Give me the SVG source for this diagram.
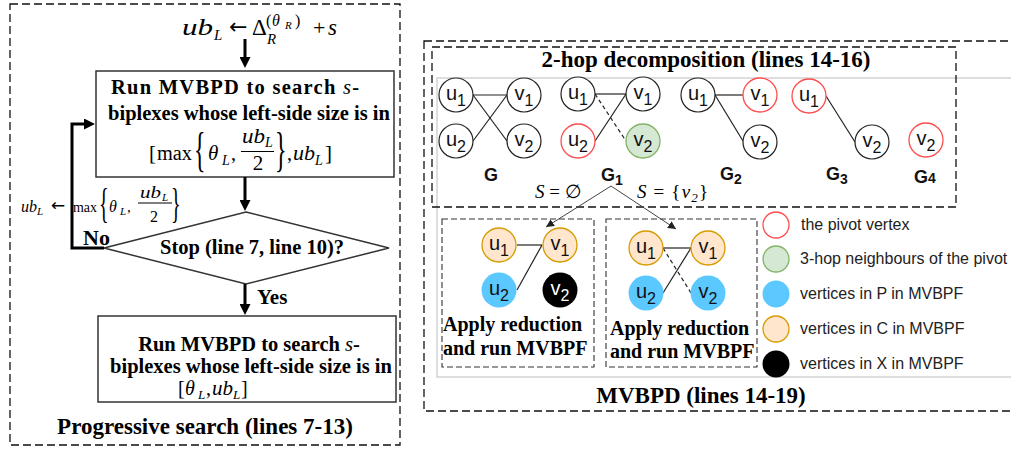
<svg xmlns="http://www.w3.org/2000/svg" width="1011" height="450" viewBox="0 0 1011 450">
<style>
.bt{font-family:"Liberation Serif",serif;font-weight:bold;fill:#000}
.m{font-family:"Liberation Serif","DejaVu Serif",serif;fill:#000}
.ar{font-family:"DejaVu Sans",sans-serif;fill:#000}
.i{font-style:italic}
.nl{font-family:"Liberation Sans",Arial,sans-serif;font-size:20px;fill:#111;text-anchor:middle}
.gl{font-family:"Liberation Sans",Arial,sans-serif;font-size:18px;font-weight:bold;fill:#111;text-anchor:middle}
.dash{fill:none;stroke:#111;stroke-width:1.3;stroke-dasharray:8,4}
.dash2{fill:none;stroke:#333;stroke-width:1.1;stroke-dasharray:6,3}
.box{fill:#fff;stroke:#333;stroke-width:1.5}
.thick{fill:none;stroke:#000;stroke-width:3}
.n{fill:#fff;stroke:#222;stroke-width:1.2}
.red{fill:#fff;stroke:#ff4d4d;stroke-width:1.3}
.grn{fill:#d5e8d4;stroke:#82b366;stroke-width:1.3}
.org{fill:#ffe6cc;stroke:#d79b00;stroke-width:1.3}
.blu{fill:#5bc8ff;stroke:none}
.blk{fill:#000;stroke:none}
.e{stroke:#222;stroke-width:1.2;fill:none}
.ed{stroke:#222;stroke-width:1.2;fill:none;stroke-dasharray:4,3}
.ta{stroke:#444;stroke-width:1;fill:none}
.lg{font-family:"Liberation Sans",Arial,sans-serif;font-size:16px;fill:#222}
</style>
<defs>
<marker id="ah" viewBox="0 0 11 11" refX="1" refY="5.5" markerWidth="11" markerHeight="11" markerUnits="userSpaceOnUse" orient="auto"><path d="M0,0 L11,5.5 L0,11 z" fill="#000"/></marker>
<marker id="sa" viewBox="0 0 8 8" refX="8" refY="4" markerWidth="8" markerHeight="8" markerUnits="userSpaceOnUse" orient="auto"><path d="M0,0 L8,4 L0,8 z" fill="#222"/></marker>
</defs>
<rect width="1011" height="450" fill="#fff"/>

<!-- Left panel -->
<g id="left-panel">
<rect class="dash" x="10" y="4" width="390" height="441"/>
<text class="bt" x="205" y="434" font-size="23" text-anchor="middle">Progressive search (lines 7-13)</text>
</g>

<g id="init-formula">
<text class="m i" x="182" y="35" font-size="24" textLength="31" lengthAdjust="spacingAndGlyphs">ub</text>
<text class="m i" x="214" y="40" font-size="15">L</text>
<text class="ar" x="229" y="34" font-size="22">←</text>
<text class="m" x="252" y="35" font-size="23">Δ</text>
<text class="m" x="266" y="26" font-size="16">(</text>
<text class="m i" x="272" y="26" font-size="16">θ</text>
<text class="m i" x="285" y="29" font-size="11">R</text>
<text class="m" x="295" y="26" font-size="16">)</text>
<text class="m i" x="267" y="44" font-size="15">R</text>
<text class="m" x="313" y="35" font-size="22">+</text>
<text class="m i" x="328" y="35" font-size="23">s</text>
</g>

<g id="box1">
<rect class="box" x="96" y="71" width="298" height="106"/>
<text class="bt" x="111" y="94" font-size="20.5" textLength="248" lengthAdjust="spacing">Run MVBPD to search <tspan class="i" font-family="Liberation Serif,serif" font-weight="normal">s</tspan>-</text>
<text class="bt" x="249" y="120" font-size="20.5" text-anchor="middle">biplexes whose left-side size is in</text>
<text class="m" x="149" y="160" font-size="21">[</text>
<text class="m" x="157" y="160" font-size="20.5" textLength="35" lengthAdjust="spacingAndGlyphs">max</text>
<text class="m" font-size="48" transform="translate(194,166) scale(0.5,1)">{</text>
<text class="m i" x="208" y="160" font-size="21">θ</text>
<text class="m i" x="222" y="165" font-size="14">L</text>
<text class="m" x="231" y="160" font-size="20">,</text>
<text class="m i" x="242" y="143" font-size="21" textLength="23" lengthAdjust="spacingAndGlyphs">ub</text>
<text class="m i" x="265" y="147" font-size="14">L</text>
<line x1="241" y1="151.5" x2="274" y2="151.5" stroke="#000" stroke-width="1.2"/>
<text class="m" x="258" y="170" font-size="21" text-anchor="middle">2</text>
<text class="m" font-size="48" transform="translate(275,166) scale(0.5,1)">}</text>
<text class="m" x="287" y="160" font-size="20">,</text>
<text class="m i" x="293" y="160" font-size="21" textLength="22" lengthAdjust="spacingAndGlyphs">ub</text>
<text class="m i" x="315" y="165" font-size="14">L</text>
<text class="m" x="325" y="160" font-size="21">]</text>
</g>

<g id="decision">
<polygon class="box" points="246,212 389,248 246,284 104,248"/>
<text class="bt" x="252" y="254" font-size="20.5" text-anchor="middle">Stop (line 7, line 10)?</text>
</g>

<g id="box2">
<rect class="box" x="98" y="316" width="298" height="86"/>
<text class="bt" x="249" y="351" font-size="20.5" text-anchor="middle">Run MVBPD to search <tspan class="i" font-family="Liberation Serif,serif" font-weight="normal">s</tspan>-</text>
<text class="bt" x="251" y="373" font-size="20.5" text-anchor="middle">biplexes whose left-side size is in</text>
<text class="m" x="178" y="395" font-size="20">[</text>
<text class="m i" x="185" y="395" font-size="20">θ</text>
<text class="m i" x="198" y="399" font-size="13">L</text>
<text class="m" x="206" y="395" font-size="20">,</text>
<text class="m i" x="212" y="395" font-size="20" textLength="21" lengthAdjust="spacingAndGlyphs">ub</text>
<text class="m i" x="233" y="399" font-size="13">L</text>
<text class="m" x="241" y="395" font-size="20">]</text>
</g>

<g id="flow-connectors">
<line class="thick" x1="245" y1="39" x2="245" y2="58" marker-end="url(#ah)"/>
<line class="thick" x1="245" y1="177" x2="245" y2="201" marker-end="url(#ah)"/>
<line class="thick" x1="245" y1="284" x2="245" y2="305" marker-end="url(#ah)"/>
<path class="thick" d="M104,248 H72 V124 H85" marker-end="url(#ah)"/>
<text class="bt" x="83" y="245" font-size="22">No</text>
<text class="bt" x="257" y="304" font-size="21">Yes</text>
<text class="m i" x="21" y="212" font-size="16" textLength="16" lengthAdjust="spacingAndGlyphs">ub</text>
<text class="m i" x="37" y="215" font-size="11">L</text>
<text class="ar" x="51" y="211" font-size="17">←</text>
<text class="m" x="73" y="212" font-size="15" textLength="24" lengthAdjust="spacingAndGlyphs">max</text>
<text class="m" font-size="43" transform="translate(99,217) scale(0.47,1)">{</text>
<text class="m i" x="109" y="212" font-size="16">θ</text>
<text class="m i" x="120" y="215" font-size="11">L</text>
<text class="m" x="127" y="212" font-size="15">,</text>
<text class="m i" x="140" y="198" font-size="16" textLength="21" lengthAdjust="spacingAndGlyphs">ub</text>
<text class="m i" x="162" y="201" font-size="11">L</text>
<line x1="138" y1="203" x2="172" y2="203" stroke="#000" stroke-width="1"/>
<text class="m" x="154" y="222" font-size="16" text-anchor="middle">2</text>
<text class="m" font-size="43" transform="translate(171,217) scale(0.47,1)">}</text>
</g>

<!-- Right panel -->
<g id="right-panel">
<rect class="dash" x="424" y="41" width="600" height="370"/>
<rect x="437" y="78" width="590" height="299" fill="none" stroke="#c8c8c8" stroke-width="1.2"/>
<rect class="dash" x="432" y="47" width="524" height="160"/>
<text class="bt" x="706" y="67" font-size="23" text-anchor="middle">2-hop decomposition (lines 14-16)</text>
<text class="bt" x="701" y="403" font-size="23" text-anchor="middle">MVBPD (lines 14-19)</text>
</g>

<g id="graph-G">
<line class="e" x1="473" y1="95" x2="507" y2="95"/>
<line class="e" x1="473" y1="95" x2="507" y2="141"/>
<line class="e" x1="473" y1="141" x2="507" y2="95"/>
<circle class="n" cx="456" cy="95" r="17"/>
<circle class="n" cx="524" cy="95" r="17"/>
<circle class="n" cx="456" cy="141" r="17"/>
<circle class="n" cx="524" cy="141" r="17"/>
<text class="nl" x="456" y="100">u<tspan font-size="16" dy="6">1</tspan></text>
<text class="nl" x="524" y="100">v<tspan font-size="16" dy="6">1</tspan></text>
<text class="nl" x="456" y="146">u<tspan font-size="16" dy="6">2</tspan></text>
<text class="nl" x="524" y="146">v<tspan font-size="16" dy="6">2</tspan></text>
<text class="gl" x="491" y="181">G</text>
</g>

<g id="graph-G1">
<line class="e" x1="595" y1="94" x2="626" y2="94"/>
<line class="e" x1="595" y1="141" x2="626" y2="94"/>
<line class="ed" x1="595" y1="94" x2="626" y2="141"/>
<circle class="n" cx="578" cy="94" r="17"/>
<circle class="n" cx="643" cy="94" r="17"/>
<circle class="red" cx="578" cy="141" r="17"/>
<circle class="grn" cx="643" cy="141" r="17"/>
<text class="nl" x="578" y="99">u<tspan font-size="16" dy="6">1</tspan></text>
<text class="nl" x="643" y="99">v<tspan font-size="16" dy="6">1</tspan></text>
<text class="nl" x="578" y="146">u<tspan font-size="16" dy="6">2</tspan></text>
<text class="nl" x="643" y="146">v<tspan font-size="16" dy="6">2</tspan></text>
<text class="gl" x="612" y="181">G<tspan font-size="14" dy="4">1</tspan></text>
</g>

<g id="graph-G2">
<line class="e" x1="715" y1="95" x2="743" y2="95"/>
<line class="e" x1="715" y1="95" x2="743" y2="141"/>
<circle class="n" cx="698" cy="95" r="17"/>
<circle class="red" cx="760" cy="95" r="17"/>
<circle class="n" cx="760" cy="142" r="17"/>
<text class="nl" x="698" y="100">u<tspan font-size="16" dy="6">1</tspan></text>
<text class="nl" x="760" y="100">v<tspan font-size="16" dy="6">1</tspan></text>
<text class="nl" x="760" y="147">v<tspan font-size="16" dy="6">2</tspan></text>
<text class="gl" x="731" y="180">G<tspan font-size="14" dy="4">2</tspan></text>
</g>

<g id="graph-G3">
<line class="e" x1="826" y1="96" x2="855" y2="142"/>
<circle class="red" cx="809" cy="96" r="17"/>
<circle class="n" cx="872" cy="142" r="17"/>
<text class="nl" x="809" y="101">u<tspan font-size="16" dy="6">1</tspan></text>
<text class="nl" x="872" y="147">v<tspan font-size="16" dy="6">2</tspan></text>
<text class="gl" x="837" y="180">G<tspan font-size="14" dy="4">3</tspan></text>
</g>

<g id="graph-G4">
<circle class="red" cx="926" cy="140" r="17"/>
<text class="nl" x="926" y="145">v<tspan font-size="16" dy="6">2</tspan></text>
<text class="gl" x="925" y="183">G<tspan font-size="14">4</tspan></text>
</g>

<g id="branch-connectors">
<line class="ta" x1="611" y1="186" x2="546" y2="227" marker-end="url(#sa)"/>
<line class="ta" x1="611" y1="186" x2="676" y2="229" marker-end="url(#sa)"/>
<text class="m i" x="535" y="198" font-size="19">S <tspan font-style="normal">= ∅</tspan></text>
<text class="m i" x="637" y="198" font-size="19" textLength="71" lengthAdjust="spacing">S <tspan font-style="normal">= {</tspan>v<tspan font-size="13" dy="4">2</tspan><tspan font-style="normal" dy="-4">}</tspan></text>
</g>

<g id="subcase-empty">
<rect class="dash2" x="442" y="219" width="152" height="148"/>
<line class="e" x1="517" y1="245" x2="542" y2="245"/>
<line class="e" x1="517" y1="290" x2="542" y2="245"/>
<circle class="org" cx="499" cy="245" r="17"/>
<circle class="org" cx="560" cy="245" r="17"/>
<circle class="blu" cx="499" cy="290" r="17.5"/>
<circle class="blk" cx="560" cy="290" r="17.5"/>
<text class="nl" x="499" y="250">u<tspan font-size="16" dy="6">1</tspan></text>
<text class="nl" x="560" y="250">v<tspan font-size="16" dy="6">1</tspan></text>
<text class="nl" x="499" y="295">u<tspan font-size="16" dy="6">2</tspan></text>
<text class="nl" x="560" y="295" style="fill:#fff">v<tspan font-size="16" dy="6">2</tspan></text>
<text class="bt" x="443" y="331" font-size="20">Apply reduction</text>
<text class="bt" x="443" y="355" font-size="20">and run MVBPF</text>
</g>

<g id="subcase-v2">
<rect class="dash2" x="606" y="219" width="151" height="148"/>
<line class="e" x1="663" y1="248" x2="691" y2="248"/>
<line class="e" x1="663" y1="293" x2="691" y2="248"/>
<line class="ed" x1="663" y1="248" x2="691" y2="293"/>
<circle class="org" cx="646" cy="248" r="17"/>
<circle class="org" cx="708" cy="248" r="17"/>
<circle class="blu" cx="646" cy="293" r="17.5"/>
<circle class="blu" cx="708" cy="293" r="17.5"/>
<text class="nl" x="646" y="253">u<tspan font-size="16" dy="6">1</tspan></text>
<text class="nl" x="708" y="253">v<tspan font-size="16" dy="6">1</tspan></text>
<text class="nl" x="646" y="298">u<tspan font-size="16" dy="6">2</tspan></text>
<text class="nl" x="708" y="298">v<tspan font-size="16" dy="6">2</tspan></text>
<text class="bt" x="610" y="335" font-size="20">Apply reduction</text>
<text class="bt" x="610" y="358" font-size="20">and run MVBPF</text>
</g>

<g id="legend">
<circle class="red" cx="776" cy="225" r="13"/>
<text class="lg" x="801" y="230">the pivot vertex</text>
<circle class="grn" cx="776" cy="259" r="13"/>
<text class="lg" x="800" y="264">3-hop neighbours of the pivot</text>
<circle class="blu" cx="776" cy="294" r="13.5"/>
<text class="lg" x="800" y="299">vertices in P in MVBPF</text>
<circle class="org" cx="776" cy="329" r="13"/>
<text class="lg" x="800" y="334">vertices in C in MVBPF</text>
<circle class="blk" cx="776" cy="364" r="13.5"/>
<text class="lg" x="800" y="369">vertices in X in MVBPF</text>
</g>
</svg>
